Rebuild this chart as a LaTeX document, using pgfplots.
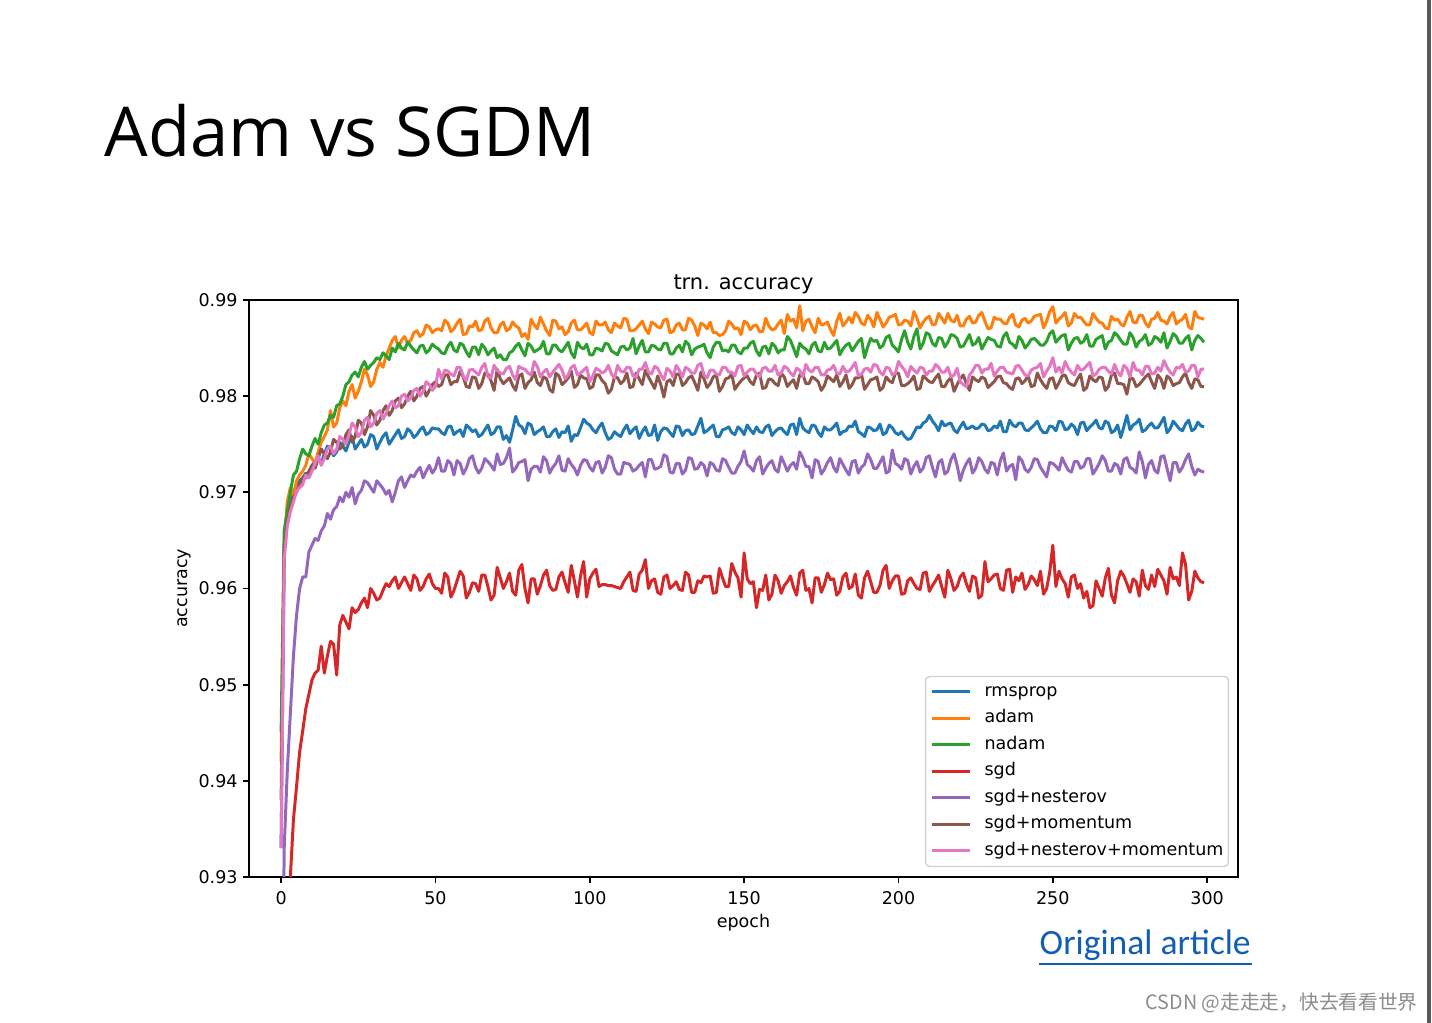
\documentclass[border=0pt]{standalone}
\usepackage{fontspec}
\setmainfont{DejaVu Sans}
\newfontfamily\slidefont{Open Sans}
\newfontfamily\linkfont{Carlito}
\newfontfamily\cjk{Noto Sans CJK SC}
\usepackage{pgfplots}
\usepackage{pgfplotstable}
\pgfplotsset{compat=1.18}
\definecolor{cRms}{HTML}{1F77B4}
\definecolor{cAdam}{HTML}{FF7F0E}
\definecolor{cNadam}{HTML}{2CA02C}
\definecolor{cSgd}{HTML}{D62728}
\definecolor{cNest}{HTML}{9467BD}
\definecolor{cMom}{HTML}{8C564B}
\definecolor{cNM}{HTML}{E377C2}
\definecolor{linkblue}{HTML}{125EB5}

\pgfplotstableread{
ep rms adam nadam sgd nest mom nm
0 0.9330 0.9420 0.9450 0.8900 0.9000 0.9380 0.9330
1 0.9640 0.9650 0.9660 0.9000 0.9330 0.9640 0.9630
2 0.9675 0.9690 0.9680 0.9150 0.9410 0.9670 0.9665
3 0.9690 0.9705 0.9700 0.9300 0.9470 0.9685 0.9680
4 0.9700 0.9695 0.9718 0.9360 0.9530 0.9695 0.9690
5 0.9708 0.9712 0.9722 0.9394 0.9572 0.9700 0.9701
6 0.9712 0.9718 0.9735 0.9430 0.9600 0.9708 0.9705
7 0.9715 0.9722 0.9745 0.9452 0.9612 0.9715 0.9708
8 0.9720 0.9728 0.9740 0.9475 0.9612 0.9715 0.9718
9 0.9718 0.9740 0.9738 0.9490 0.9638 0.9722 0.9715
10 0.9728 0.9735 0.9748 0.9505 0.9645 0.9728 0.9722
11 0.9732 0.9730 0.9756 0.9512 0.9652 0.9725 0.9730
12 0.9735 0.9742 0.9750 0.9515 0.9650 0.9735 0.9738
13 0.9730 0.9752 0.9762 0.9540 0.9660 0.9745 0.9728
14 0.9740 0.9758 0.9770 0.9512 0.9665 0.9740 0.9735
15 0.9748 0.9765 0.9772 0.9530 0.9678 0.9735 0.9745
16 0.9745 0.9785 0.9780 0.9545 0.9672 0.9742 0.9748
17 0.9738 0.9768 0.9778 0.9542 0.9682 0.9755 0.9740
18 0.9742 0.9772 0.9790 0.9510 0.9685 0.9752 0.9745
19 0.9752 0.9788 0.9792 0.9562 0.9695 0.9745 0.9758
20 0.9748 0.9795 0.9800 0.9572 0.9690 0.9748 0.9755
21 0.9743 0.9790 0.9812 0.9565 0.9700 0.9760 0.9750
22 0.9752 0.9805 0.9815 0.9558 0.9695 0.9765 0.9760
23 0.9758 0.9812 0.9822 0.9580 0.9705 0.9752 0.9772
24 0.9745 0.9798 0.9825 0.9575 0.9688 0.9758 0.9768
25 0.9750 0.9805 0.9820 0.9578 0.9698 0.9775 0.9758
26 0.9755 0.9815 0.9830 0.9585 0.9702 0.9772 0.9762
27 0.9747 0.9828 0.9836 0.9590 0.9712 0.9760 0.9775
28 0.9750 0.9822 0.9828 0.9580 0.9710 0.9768 0.9778
29 0.9760 0.9810 0.9832 0.9600 0.9705 0.9785 0.9768
30 0.9758 0.9815 0.9835 0.9595 0.9700 0.9780 0.9772
31 0.9745 0.9828 0.9840 0.9588 0.9712 0.9770 0.9782
32 0.9752 0.9835 0.9838 0.9590 0.9708 0.9775 0.9785
33 0.9758 0.9830 0.9845 0.9598 0.9704 0.9785 0.9776
34 0.9762 0.9842 0.9842 0.9605 0.9698 0.9790 0.9782
35 0.9750 0.9850 0.9838 0.9602 0.9702 0.9780 0.9790
36 0.9755 0.9858 0.9850 0.9608 0.9690 0.9785 0.9795
37 0.9760 0.9862 0.9846 0.9612 0.9700 0.9795 0.9788
38 0.9765 0.9850 0.9855 0.9600 0.9712 0.9798 0.9790
39 0.9756 0.9858 0.9850 0.9606 0.9716 0.9788 0.9800
40 0.9758 0.9862 0.9848 0.9612 0.9705 0.9792 0.9802
41 0.9766 0.9855 0.9856 0.9605 0.9712 0.9800 0.9795
42 0.9763 0.9858 0.9852 0.9598 0.9718 0.9805 0.9798
43 0.9757 0.9866 0.9848 0.9614 0.9716 0.9795 0.9806
44 0.9760 0.9868 0.9845 0.9610 0.9722 0.9800 0.9808
45 0.9765 0.9862 0.9852 0.9598 0.9726 0.9808 0.9800
46 0.9768 0.9865 0.9853 0.9602 0.9715 0.9810 0.9805
47 0.9760 0.9874 0.9845 0.9610 0.9722 0.9800 0.9815
48 0.9762 0.9872 0.9848 0.9615 0.9728 0.9806 0.9812
49 0.9767 0.9866 0.9854 0.9605 0.9720 0.9812 0.9806
50 0.9766 0.9869 0.9851 0.9600 0.9725 0.9815 0.9810
51 0.9766 0.9870 0.9849 0.9600 0.9736 0.9810 0.9828
52 0.9762 0.9868 0.9845 0.9595 0.9722 0.9812 0.9818
53 0.9760 0.9879 0.9844 0.9616 0.9722 0.9822 0.9827
54 0.9768 0.9876 0.9852 0.9612 0.9733 0.9822 0.9826
55 0.9769 0.9867 0.9856 0.9591 0.9730 0.9812 0.9823
56 0.9760 0.9870 0.9848 0.9598 0.9718 0.9815 0.9821
57 0.9763 0.9876 0.9846 0.9608 0.9733 0.9815 0.9830
58 0.9765 0.9880 0.9855 0.9618 0.9730 0.9826 0.9830
59 0.9758 0.9864 0.9853 0.9613 0.9719 0.9820 0.9821
60 0.9770 0.9865 0.9846 0.9590 0.9725 0.9810 0.9816
61 0.9767 0.9873 0.9841 0.9596 0.9735 0.9809 0.9827
62 0.9763 0.9872 0.9851 0.9606 0.9738 0.9820 0.9828
63 0.9765 0.9878 0.9851 0.9605 0.9726 0.9819 0.9825
64 0.9758 0.9868 0.9843 0.9597 0.9720 0.9808 0.9822
65 0.9760 0.9869 0.9854 0.9614 0.9725 0.9813 0.9830
66 0.9765 0.9878 0.9850 0.9614 0.9735 0.9824 0.9834
67 0.9770 0.9881 0.9843 0.9602 0.9732 0.9823 0.9820
68 0.9760 0.9871 0.9847 0.9588 0.9728 0.9816 0.9819
69 0.9762 0.9866 0.9850 0.9593 0.9723 0.9806 0.9832
70 0.9768 0.9866 0.9840 0.9622 0.9740 0.9828 0.9827
71 0.9768 0.9874 0.9843 0.9611 0.9729 0.9818 0.9824
72 0.9755 0.9877 0.9838 0.9600 0.9730 0.9813 0.9823
73 0.9759 0.9868 0.9838 0.9607 0.9736 0.9816 0.9829
74 0.9752 0.9870 0.9845 0.9616 0.9746 0.9819 0.9831
75 0.9765 0.9877 0.9847 0.9597 0.9721 0.9811 0.9822
76 0.9779 0.9873 0.9852 0.9593 0.9725 0.9806 0.9817
77 0.9770 0.9871 0.9855 0.9619 0.9731 0.9821 0.9831
78 0.9768 0.9862 0.9848 0.9625 0.9732 0.9823 0.9829
79 0.9761 0.9865 0.9842 0.9600 0.9734 0.9808 0.9828
80 0.9772 0.9859 0.9855 0.9585 0.9712 0.9814 0.9824
81 0.9770 0.9880 0.9852 0.9610 0.9724 0.9817 0.9822
82 0.9760 0.9874 0.9846 0.9610 0.9727 0.9825 0.9836
83 0.9763 0.9870 0.9848 0.9594 0.9727 0.9814 0.9831
84 0.9765 0.9882 0.9850 0.9603 0.9721 0.9811 0.9820
85 0.9768 0.9875 0.9857 0.9614 0.9737 0.9820 0.9825
86 0.9758 0.9868 0.9844 0.9619 0.9733 0.9818 0.9828
87 0.9758 0.9863 0.9844 0.9603 0.9720 0.9807 0.9820
88 0.9763 0.9879 0.9853 0.9598 0.9726 0.9804 0.9825
89 0.9766 0.9878 0.9853 0.9599 0.9730 0.9824 0.9829
90 0.9757 0.9870 0.9848 0.9612 0.9738 0.9821 0.9833
91 0.9763 0.9872 0.9846 0.9617 0.9723 0.9812 0.9827
92 0.9762 0.9864 0.9851 0.9606 0.9722 0.9815 0.9818
93 0.9769 0.9867 0.9856 0.9596 0.9735 0.9819 0.9822
94 0.9753 0.9876 0.9845 0.9624 0.9729 0.9826 0.9830
95 0.9760 0.9879 0.9840 0.9608 0.9725 0.9809 0.9832
96 0.9759 0.9869 0.9856 0.9591 0.9718 0.9812 0.9822
97 0.9767 0.9869 0.9851 0.9613 0.9728 0.9822 0.9824
98 0.9776 0.9872 0.9849 0.9628 0.9734 0.9819 0.9827
99 0.9772 0.9876 0.9854 0.9591 0.9733 0.9818 0.9830
100 0.9770 0.9866 0.9843 0.9610 0.9726 0.9808 0.9815
101 0.9765 0.9864 0.9843 0.9616 0.9722 0.9810 0.9821
102 0.9762 0.9878 0.9850 0.9620 0.9731 0.9822 0.9829
103 0.9768 0.9874 0.9849 0.9602 0.9732 0.9822 0.9827
104 0.9772 0.9874 0.9847 0.9604 0.9720 0.9816 0.9824
105 0.9762 0.9877 0.9855 0.9604 0.9726 0.9813 0.9826
106 0.9755 0.9869 0.9854 0.9603 0.9738 0.9803 0.9832
107 0.9757 0.9866 0.9847 0.9603 0.9736 0.9807 0.9823
108 0.9763 0.9876 0.9845 0.9602 0.9724 0.9820 0.9819
109 0.9760 0.9873 0.9843 0.9601 0.9719 0.9819 0.9832
110 0.9758 0.9871 0.9851 0.9600 0.9719 0.9813 0.9826
111 0.9765 0.9881 0.9852 0.9607 0.9731 0.9816 0.9825
112 0.9770 0.9880 0.9848 0.9612 0.9730 0.9824 0.9830
113 0.9761 0.9868 0.9850 0.9617 0.9729 0.9809 0.9830
114 0.9765 0.9868 0.9860 0.9598 0.9722 0.9810 0.9821
115 0.9768 0.9870 0.9844 0.9597 0.9724 0.9824 0.9820
116 0.9756 0.9874 0.9852 0.9615 0.9728 0.9818 0.9828
117 0.9763 0.9878 0.9858 0.9619 0.9731 0.9812 0.9828
118 0.9768 0.9870 0.9846 0.9630 0.9716 0.9827 0.9835
119 0.9759 0.9865 0.9846 0.9600 0.9734 0.9820 0.9825
120 0.9760 0.9877 0.9853 0.9608 0.9734 0.9814 0.9823
121 0.9770 0.9875 0.9852 0.9610 0.9724 0.9808 0.9831
122 0.9754 0.9872 0.9849 0.9596 0.9725 0.9821 0.9829
123 0.9763 0.9871 0.9848 0.9594 0.9727 0.9812 0.9822
124 0.9767 0.9879 0.9855 0.9612 0.9739 0.9799 0.9817
125 0.9766 0.9880 0.9855 0.9614 0.9737 0.9815 0.9829
126 0.9762 0.9866 0.9844 0.9600 0.9721 0.9817 0.9826
127 0.9758 0.9867 0.9844 0.9603 0.9720 0.9811 0.9820
128 0.9769 0.9874 0.9850 0.9607 0.9730 0.9823 0.9832
129 0.9768 0.9876 0.9853 0.9599 0.9730 0.9823 0.9827
130 0.9759 0.9869 0.9846 0.9598 0.9719 0.9811 0.9820
131 0.9764 0.9869 0.9857 0.9617 0.9723 0.9814 0.9830
132 0.9765 0.9881 0.9854 0.9614 0.9736 0.9819 0.9828
133 0.9760 0.9879 0.9843 0.9596 0.9735 0.9821 0.9824
134 0.9761 0.9873 0.9849 0.9596 0.9724 0.9814 0.9824
135 0.9769 0.9863 0.9851 0.9608 0.9725 0.9806 0.9832
136 0.9777 0.9876 0.9852 0.9606 0.9731 0.9825 0.9834
137 0.9762 0.9874 0.9854 0.9613 0.9728 0.9818 0.9822
138 0.9764 0.9870 0.9845 0.9612 0.9717 0.9809 0.9819
139 0.9767 0.9877 0.9840 0.9613 0.9731 0.9813 0.9827
140 0.9770 0.9866 0.9851 0.9595 0.9729 0.9820 0.9827
141 0.9758 0.9866 0.9856 0.9596 0.9723 0.9822 0.9823
142 0.9758 0.9863 0.9856 0.9621 0.9722 0.9805 0.9822
143 0.9765 0.9864 0.9847 0.9611 0.9735 0.9810 0.9830
144 0.9766 0.9868 0.9848 0.9602 0.9733 0.9818 0.9830
145 0.9768 0.9878 0.9846 0.9602 0.9726 0.9819 0.9825
146 0.9762 0.9875 0.9853 0.9626 0.9720 0.9823 0.9825
147 0.9760 0.9870 0.9853 0.9617 0.9720 0.9807 0.9821
148 0.9768 0.9871 0.9846 0.9611 0.9727 0.9812 0.9831
149 0.9765 0.9864 0.9844 0.9591 0.9732 0.9816 0.9832
150 0.9760 0.9878 0.9850 0.9637 0.9743 0.9819 0.9821
151 0.9770 0.9876 0.9850 0.9610 0.9729 0.9821 0.9825
152 0.9765 0.9869 0.9855 0.9605 0.9726 0.9815 0.9828
153 0.9761 0.9873 0.9857 0.9607 0.9722 0.9812 0.9828
154 0.9768 0.9874 0.9847 0.9580 0.9733 0.9822 0.9823
155 0.9763 0.9867 0.9842 0.9599 0.9737 0.9824 0.9820
156 0.9762 0.9867 0.9851 0.9598 0.9719 0.9808 0.9829
157 0.9768 0.9881 0.9852 0.9614 0.9725 0.9809 0.9830
158 0.9770 0.9873 0.9844 0.9588 0.9730 0.9818 0.9826
159 0.9759 0.9869 0.9855 0.9594 0.9733 0.9817 0.9826
160 0.9763 0.9870 0.9852 0.9614 0.9724 0.9813 0.9832
161 0.9766 0.9875 0.9845 0.9608 0.9721 0.9811 0.9822
162 0.9767 0.9879 0.9848 0.9595 0.9737 0.9824 0.9824
163 0.9763 0.9865 0.9848 0.9603 0.9730 0.9820 0.9831
164 0.9760 0.9885 0.9862 0.9607 0.9722 0.9810 0.9829
165 0.9770 0.9878 0.9858 0.9613 0.9728 0.9814 0.9824
166 0.9771 0.9880 0.9850 0.9601 0.9731 0.9817 0.9821
167 0.9760 0.9871 0.9841 0.9593 0.9724 0.9808 0.9829
168 0.9777 0.9894 0.9855 0.9616 0.9742 0.9822 0.9827
169 0.9767 0.9868 0.9851 0.9619 0.9736 0.9823 0.9820
170 0.9764 0.9878 0.9849 0.9598 0.9727 0.9813 0.9833
171 0.9762 0.9880 0.9844 0.9600 0.9727 0.9813 0.9827
172 0.9770 0.9872 0.9853 0.9585 0.9715 0.9820 0.9825
173 0.9769 0.9866 0.9856 0.9611 0.9734 0.9818 0.9830
174 0.9762 0.9881 0.9847 0.9611 0.9732 0.9815 0.9830
175 0.9758 0.9874 0.9846 0.9596 0.9719 0.9806 0.9822
176 0.9768 0.9875 0.9856 0.9604 0.9724 0.9811 0.9822
177 0.9765 0.9877 0.9849 0.9616 0.9731 0.9821 0.9827
178 0.9765 0.9869 0.9850 0.9609 0.9736 0.9818 0.9828
179 0.9768 0.9863 0.9854 0.9610 0.9726 0.9815 0.9832
180 0.9772 0.9878 0.9858 0.9593 0.9721 0.9822 0.9824
181 0.9760 0.9886 0.9843 0.9597 0.9735 0.9810 0.9823
182 0.9763 0.9873 0.9849 0.9612 0.9729 0.9815 0.9831
183 0.9764 0.9877 0.9853 0.9616 0.9723 0.9822 0.9825
184 0.9769 0.9882 0.9855 0.9600 0.9718 0.9808 0.9826
185 0.9768 0.9876 0.9847 0.9602 0.9732 0.9812 0.9830
186 0.9774 0.9887 0.9852 0.9615 0.9733 0.9819 0.9835
187 0.9763 0.9883 0.9857 0.9593 0.9720 0.9819 0.9821
188 0.9761 0.9876 0.9860 0.9590 0.9726 0.9823 0.9823
189 0.9758 0.9874 0.9840 0.9611 0.9729 0.9807 0.9828
190 0.9768 0.9884 0.9851 0.9618 0.9740 0.9812 0.9829
191 0.9767 0.9880 0.9860 0.9607 0.9734 0.9817 0.9825
192 0.9764 0.9872 0.9857 0.9596 0.9725 0.9818 0.9833
193 0.9765 0.9887 0.9858 0.9596 0.9725 0.9820 0.9832
194 0.9771 0.9880 0.9850 0.9603 0.9731 0.9806 0.9825
195 0.9760 0.9872 0.9853 0.9619 0.9737 0.9809 0.9822
196 0.9762 0.9876 0.9861 0.9624 0.9720 0.9820 0.9830
197 0.9770 0.9882 0.9863 0.9600 0.9722 0.9816 0.9829
198 0.9767 0.9883 0.9853 0.9608 0.9744 0.9814 0.9822
199 0.9762 0.9885 0.9850 0.9613 0.9730 0.9824 0.9824
200 0.9760 0.9874 0.9846 0.9613 0.9728 0.9824 0.9836
201 0.9763 0.9875 0.9859 0.9594 0.9724 0.9811 0.9831
202 0.9758 0.9879 0.9868 0.9595 0.9735 0.9811 0.9827
203 0.9755 0.9878 0.9856 0.9608 0.9733 0.9813 0.9820
204 0.9756 0.9873 0.9849 0.9611 0.9719 0.9816 0.9831
205 0.9762 0.9888 0.9862 0.9605 0.9727 0.9821 0.9827
206 0.9768 0.9881 0.9870 0.9600 0.9732 0.9807 0.9824
207 0.9767 0.9871 0.9849 0.9599 0.9721 0.9808 0.9830
208 0.9772 0.9877 0.9855 0.9616 0.9725 0.9821 0.9829
209 0.9774 0.9881 0.9866 0.9617 0.9736 0.9818 0.9822
210 0.9780 0.9883 0.9864 0.9597 0.9738 0.9815 0.9826
211 0.9774 0.9874 0.9855 0.9603 0.9726 0.9814 0.9826
212 0.9770 0.9875 0.9852 0.9608 0.9716 0.9819 0.9833
213 0.9764 0.9886 0.9861 0.9614 0.9731 0.9823 0.9830
214 0.9774 0.9881 0.9860 0.9602 0.9734 0.9810 0.9825
215 0.9769 0.9876 0.9851 0.9591 0.9719 0.9810 0.9825
216 0.9771 0.9886 0.9856 0.9619 0.9722 0.9816 0.9830
217 0.9772 0.9879 0.9864 0.9610 0.9734 0.9819 0.9820
218 0.9765 0.9877 0.9863 0.9598 0.9740 0.9805 0.9822
219 0.9762 0.9884 0.9860 0.9602 0.9728 0.9812 0.9829
220 0.9768 0.9873 0.9851 0.9612 0.9712 0.9818 0.9815
221 0.9773 0.9873 0.9852 0.9616 0.9723 0.9822 0.9812
222 0.9766 0.9880 0.9858 0.9605 0.9730 0.9813 0.9810
223 0.9767 0.9883 0.9864 0.9597 0.9735 0.9806 0.9822
224 0.9769 0.9876 0.9853 0.9613 0.9720 0.9820 0.9826
225 0.9766 0.9877 0.9855 0.9611 0.9725 0.9817 0.9832
226 0.9767 0.9884 0.9861 0.9590 0.9736 0.9815 0.9832
227 0.9771 0.9887 0.9849 0.9593 0.9732 0.9820 0.9824
228 0.9770 0.9878 0.9855 0.9628 0.9724 0.9818 0.9828
229 0.9764 0.9870 0.9861 0.9607 0.9720 0.9809 0.9828
230 0.9765 0.9871 0.9859 0.9610 0.9731 0.9812 0.9834
231 0.9769 0.9882 0.9858 0.9614 0.9730 0.9815 0.9821
232 0.9767 0.9880 0.9852 0.9615 0.9718 0.9820 0.9826
233 0.9774 0.9880 0.9851 0.9600 0.9733 0.9821 0.9830
234 0.9763 0.9876 0.9862 0.9598 0.9741 0.9814 0.9830
235 0.9763 0.9875 0.9866 0.9619 0.9722 0.9813 0.9825
236 0.9775 0.9882 0.9856 0.9620 0.9727 0.9809 0.9824
237 0.9770 0.9885 0.9854 0.9596 0.9729 0.9807 0.9823
238 0.9768 0.9874 0.9850 0.9612 0.9713 0.9818 0.9831
239 0.9772 0.9872 0.9862 0.9608 0.9737 0.9819 0.9832
240 0.9772 0.9879 0.9858 0.9616 0.9733 0.9813 0.9827
241 0.9765 0.9881 0.9850 0.9599 0.9724 0.9816 0.9822
242 0.9764 0.9876 0.9854 0.9604 0.9721 0.9821 0.9821
243 0.9767 0.9878 0.9859 0.9613 0.9726 0.9810 0.9827
244 0.9770 0.9883 0.9860 0.9609 0.9735 0.9811 0.9829
245 0.9774 0.9884 0.9857 0.9603 0.9734 0.9824 0.9830
246 0.9766 0.9885 0.9853 0.9618 0.9726 0.9817 0.9834
247 0.9762 0.9871 0.9853 0.9594 0.9721 0.9812 0.9820
248 0.9762 0.9878 0.9857 0.9600 0.9716 0.9808 0.9826
249 0.9769 0.9888 0.9865 0.9617 0.9731 0.9818 0.9831
250 0.9768 0.9893 0.9868 0.9645 0.9730 0.9819 0.9840
251 0.9764 0.9876 0.9856 0.9602 0.9727 0.9808 0.9825
252 0.9774 0.9880 0.9860 0.9618 0.9723 0.9814 0.9830
253 0.9773 0.9883 0.9863 0.9610 0.9736 0.9821 0.9824
254 0.9765 0.9887 0.9864 0.9605 0.9729 0.9822 0.9836
255 0.9766 0.9873 0.9848 0.9591 0.9723 0.9814 0.9829
256 0.9771 0.9876 0.9855 0.9612 0.9721 0.9812 0.9825
257 0.9768 0.9886 0.9860 0.9614 0.9732 0.9811 0.9822
258 0.9760 0.9882 0.9861 0.9600 0.9732 0.9818 0.9832
259 0.9772 0.9882 0.9855 0.9605 0.9725 0.9823 0.9827
260 0.9773 0.9878 0.9857 0.9590 0.9727 0.9806 0.9828
261 0.9764 0.9874 0.9864 0.9597 0.9735 0.9809 0.9832
262 0.9768 0.9874 0.9852 0.9580 0.9735 0.9821 0.9835
263 0.9771 0.9886 0.9852 0.9582 0.9719 0.9817 0.9821
264 0.9775 0.9881 0.9859 0.9608 0.9724 0.9815 0.9823
265 0.9767 0.9877 0.9861 0.9600 0.9730 0.9820 0.9828
266 0.9766 0.9876 0.9863 0.9592 0.9738 0.9819 0.9830
267 0.9774 0.9871 0.9849 0.9611 0.9733 0.9806 0.9830
268 0.9772 0.9870 0.9856 0.9621 0.9722 0.9810 0.9826
269 0.9762 0.9883 0.9858 0.9593 0.9722 0.9822 0.9823
270 0.9764 0.9879 0.9866 0.9585 0.9730 0.9824 0.9833
271 0.9770 0.9880 0.9863 0.9608 0.9728 0.9813 0.9825
272 0.9757 0.9875 0.9858 0.9618 0.9719 0.9813 0.9821
273 0.9768 0.9873 0.9854 0.9613 0.9734 0.9812 0.9832
274 0.9780 0.9882 0.9854 0.9605 0.9736 0.9802 0.9829
275 0.9765 0.9888 0.9866 0.9596 0.9726 0.9819 0.9820
276 0.9770 0.9877 0.9861 0.9610 0.9724 0.9818 0.9835
277 0.9772 0.9876 0.9851 0.9607 0.9720 0.9810 0.9827
278 0.9776 0.9884 0.9857 0.9592 0.9742 0.9812 0.9827
279 0.9763 0.9884 0.9859 0.9619 0.9732 0.9816 0.9822
280 0.9765 0.9876 0.9864 0.9603 0.9715 0.9820 0.9831
281 0.9769 0.9872 0.9853 0.9599 0.9729 0.9823 0.9831
282 0.9772 0.9880 0.9855 0.9614 0.9733 0.9815 0.9823
283 0.9767 0.9881 0.9862 0.9602 0.9723 0.9808 0.9824
284 0.9767 0.9887 0.9860 0.9620 0.9720 0.9822 0.9830
285 0.9772 0.9879 0.9856 0.9614 0.9737 0.9818 0.9826
286 0.9778 0.9878 0.9866 0.9608 0.9738 0.9808 0.9837
287 0.9762 0.9875 0.9850 0.9594 0.9725 0.9821 0.9830
288 0.9766 0.9883 0.9857 0.9622 0.9712 0.9818 0.9825
289 0.9774 0.9887 0.9865 0.9610 0.9731 0.9811 0.9822
290 0.9770 0.9875 0.9862 0.9612 0.9731 0.9813 0.9830
291 0.9766 0.9878 0.9855 0.9603 0.9721 0.9814 0.9829
292 0.9764 0.9880 0.9855 0.9637 0.9726 0.9820 0.9833
293 0.9771 0.9885 0.9860 0.9625 0.9734 0.9824 0.9825
294 0.9775 0.9872 0.9863 0.9588 0.9740 0.9814 0.9826
295 0.9764 0.9870 0.9848 0.9597 0.9727 0.9808 0.9832
296 0.9766 0.9888 0.9858 0.9618 0.9718 0.9818 0.9832
297 0.9773 0.9882 0.9863 0.9611 0.9724 0.9817 0.9820
298 0.9769 0.9881 0.9860 0.9607 0.9722 0.9810 0.9828
299 0.9768 0.9880 0.9856 0.9606 0.9721 0.9810 0.9828
}\acc

\begin{document}
\begin{tikzpicture}
\fill[white] (0,0) rectangle (14.32,10.23);
\fill[black!65] (14.27,0) rectangle (14.31,10.23);
\node[anchor=base west, inner sep=0pt] at (1.04,8.665)
  {\resizebox{4.91cm}{!}{\slidefont Adam vs SGDM}};
\begin{axis}[
  at={(2.49cm,1.46cm)}, anchor=south west,
  scale only axis, width=9.89cm, height=5.77cm,
  xmin=-10.4, xmax=310, ymin=0.93, ymax=0.99,
  xtick={0,50,100,150,200,250,300},
  ytick={0.93,0.94,0.95,0.96,0.97,0.98,0.99},
  xtick pos=left, ytick pos=left,
  tick align=outside, major tick length=0.06cm,
  axis line style={black, line width=0.5pt},
  tick style={black, line width=0.5pt},
  /pgf/number format/assume math mode=true,
  yticklabel style={/pgf/number format/.cd, fixed, fixed zerofill, precision=2, /tikz/.cd, xshift=0.07cm},
  xticklabel style={yshift=0.04cm},
  tick label style={font=\fontsize{4.98}{6}\selectfont},
  label style={font=\fontsize{4.98}{6}\selectfont},
  title style={font=\fontsize{5.97}{7}\selectfont, at={(axis description cs:0.5,1)}, anchor=base, yshift=-2.9pt},
  title={trn. accuracy},
  xlabel={epoch}, ylabel={accuracy},
  xlabel style={at={(axis description cs:0.5,-0.079)}, anchor=center},
  ylabel style={at={(axis description cs:-0.0657,0.5)}, anchor=center, rotate=0},
  legend cell align=left,
  legend style={at={(0.991,0.017)}, anchor=south east, draw=black!18,
    rounded corners=0.04cm, fill=white,
    font=\fontsize{4.98}{6}\selectfont,
    inner xsep=0.05cm, inner ysep=0.07cm, row sep=0.095cm, column sep=0.13cm,
    nodes={inner sep=0pt, text height=0.13cm, text depth=0.04cm}},
  legend image code/.code={\draw[#1, line width=0.85pt] (0cm,0cm) -- (0.38cm,0cm);},
  every axis plot/.append style={line width=0.85pt, line join=round},
]
\addplot[cRms] table[x=ep,y=rms]{\acc}; \addlegendentry{rmsprop}
\addplot[cAdam] table[x=ep,y=adam]{\acc}; \addlegendentry{adam}
\addplot[cNadam] table[x=ep,y=nadam]{\acc}; \addlegendentry{nadam}
\addplot[cSgd] table[x=ep,y=sgd]{\acc}; \addlegendentry{sgd}
\addplot[cNest] table[x=ep,y=nest]{\acc}; \addlegendentry{sgd+nesterov}
\addplot[cMom] table[x=ep,y=mom]{\acc}; \addlegendentry{sgd+momentum}
\addplot[cNM] table[x=ep,y=nm]{\acc}; \addlegendentry{sgd+nesterov+momentum}
\end{axis}
\node[anchor=base west, inner sep=0pt, text=linkblue] at (10.39,0.68)
  {\resizebox{2.11cm}{!}{\linkfont Original article}};
\draw[linkblue, line width=0.02cm] (10.39,0.59) -- (12.52,0.59);
\node[anchor=base west, inner sep=0pt, text=black!45] at (11.45,0.13)
  {\resizebox{2.72cm}{!}{\cjk CSDN @走走走，快去看看世界}};
\pgfresetboundingbox
\useasboundingbox (0,0) rectangle (14.32,10.23);
\end{tikzpicture}
\end{document}
